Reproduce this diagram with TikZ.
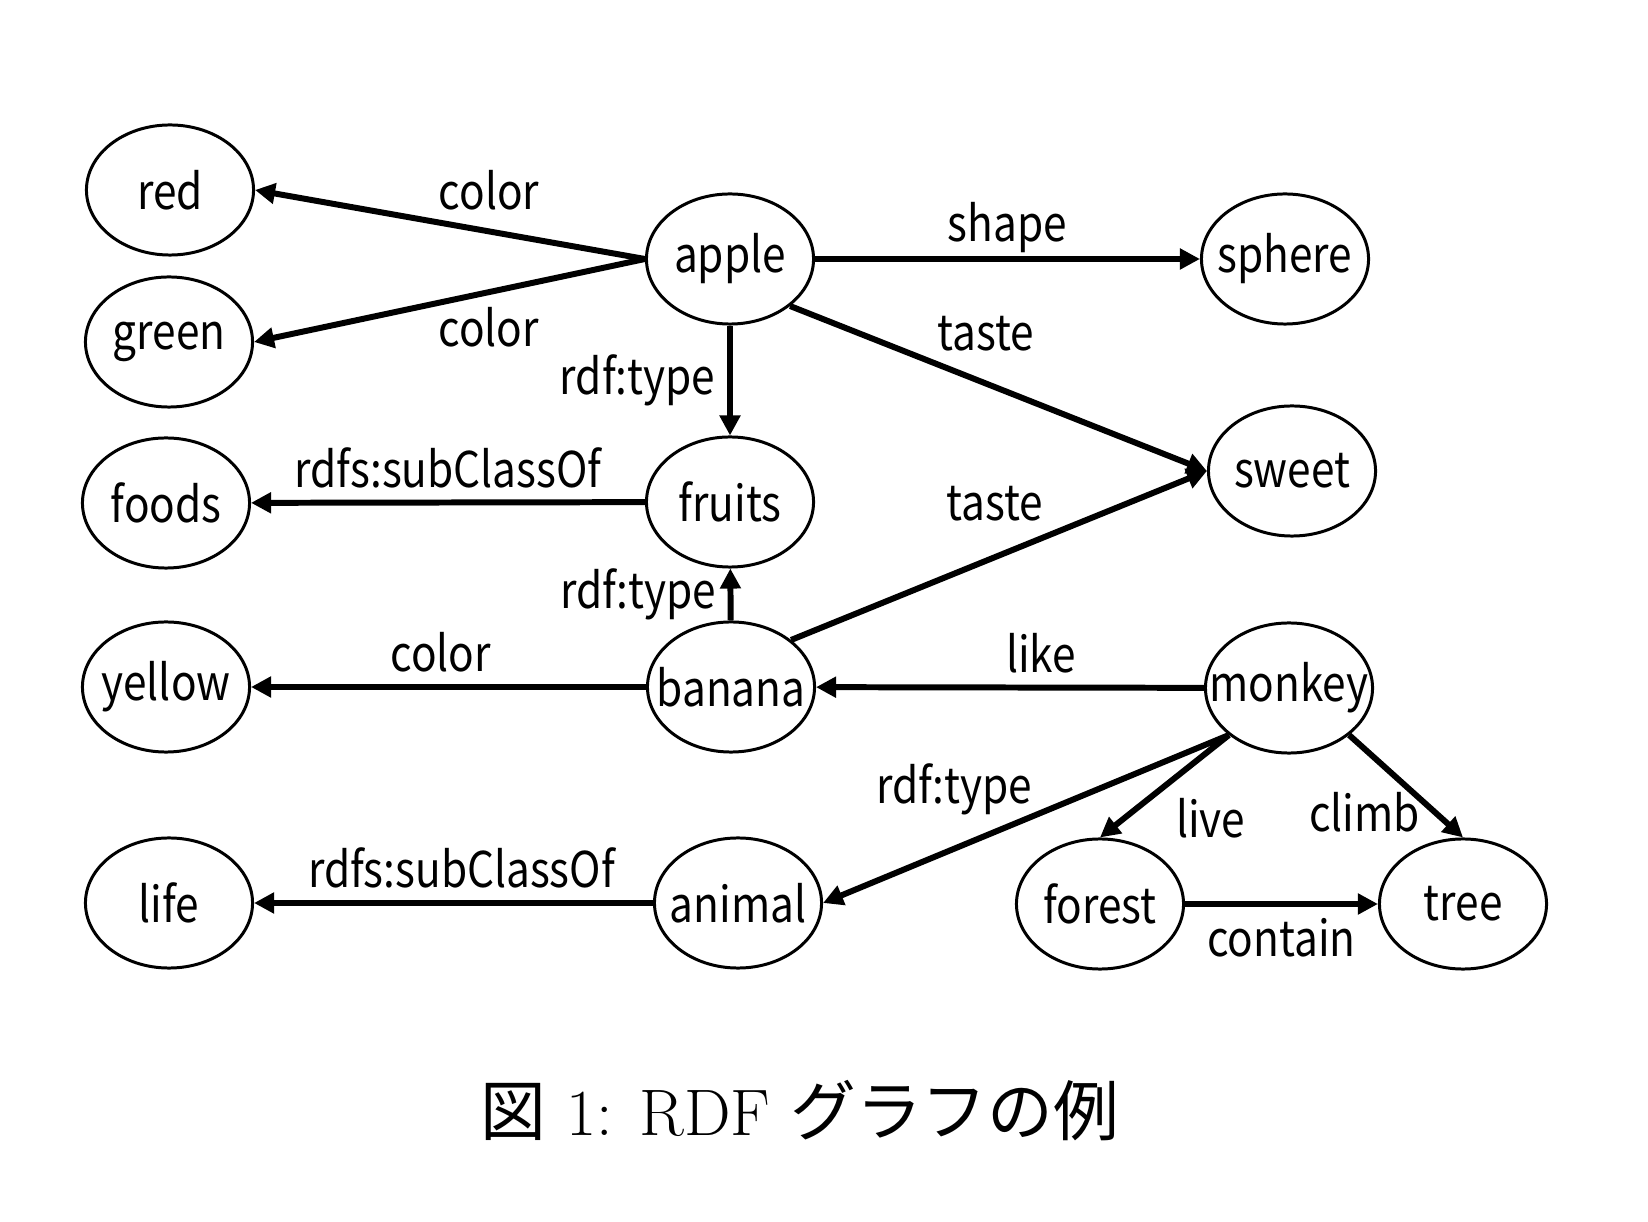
\documentclass[tikz,border=0pt]{standalone}
\usepackage{fontspec}
\newfontfamily\jpfont{Noto Sans CJK JP}
\newfontfamily\lblfont[FakeStretch=0.86]{Noto Sans CJK JP}
\usetikzlibrary{arrows.meta,shapes.geometric}

\begin{document}
\begin{tikzpicture}[x=0.01cm, y=-0.01cm, thick,
  res/.style={draw, ellipse, line width=0.85pt, minimum width=1.67cm,
    minimum height=1.3cm, inner sep=0pt, font=\lblfont\fontsize{14}{16}\selectfont,
    execute at begin node={\hbox to 0pt\bgroup\hss},
    execute at end node={\hss\egroup}},
  rel/.style={line width=1.7pt, -{Triangle[length=0.2cm,width=0.2cm]}},
  lbl/.style={font=\lblfont\fontsize{14}{16}\selectfont}]

\useasboundingbox (0,0) rectangle (1648,1222);

\node[res] (red) at (170,190) {red};
\node[res] (green) at (169,342) {green};
\node[res] (foods) at (166,503) {foods};
\node[res] (yellow) at (166,687) {yellow};
\node[res] (life) at (169,903) {life};
\node[res] (apple) at (730,259) {apple};
\node[res] (fruits) at (730,502) {fruits};
\node[res] (banana) at (731,687) {banana};
\node[res] (animal) at (738,903) {animal};
\node[res] (sphere) at (1285,259) {sphere};
\node[res] (sweet) at (1292,471) {sweet};
\node[res] (monkey) at (1289,688) {monkey};
\node[res] (forest) at (1100,904) {forest};
\node[res] (tree) at (1463,904) {tree};

\draw[rel] (apple.west) -- node[lbl, pos=0.4, above=2pt] {color} (red.east);
\draw[rel] (apple.west) -- node[lbl, pos=0.4, below] {color} (green.east);
\draw[rel] (apple) -- node[lbl, left] {rdf:type} (fruits);
\draw[rel] (apple) -- node[lbl, above, inner sep=1pt] {shape} (sphere);
\draw[rel] (apple.south east) -- node[lbl, pos=0.47, above=5pt] {taste} (sweet.west);
\draw[rel] (fruits) -- node[lbl, above] {rdfs:subClassOf} (foods);
\draw[rel] (banana) -- node[lbl, left] {rdf:type} (fruits);
\draw[rel] (banana.north east) -- node[lbl, pos=0.49, above=6pt] {taste} (sweet.west);
\draw[rel] (banana) -- node[lbl, pos=0.52, above] {color} (yellow);
\draw[rel] (monkey) -- node[lbl, pos=0.42, above] {like} (banana);
\draw[rel] (monkey.south west) -- node[lbl, pos=0.46, anchor=south east, inner sep=2pt, yshift=-3.5pt] {rdf:type} (animal.east);
\draw[rel] (monkey.south west) -- node[lbl, pos=0.5, below right, inner sep=2.5pt] {live} (forest.north);
\draw[rel] (monkey.south east) -- node[lbl, pos=0.75, left] {climb} (tree.north);
\draw[rel] (forest) -- node[lbl, below] {contain} (tree);
\draw[rel] (animal) -- node[lbl, pos=0.48, above] {rdfs:subClassOf} (life);

\node[anchor=base, font=\fontsize{18.7}{20}\selectfont] (caption) at (800,1135)
  {{\jpfont 図}\ 1: RDF\ {\jpfont グラフの例}};
\end{tikzpicture}
\end{document}
